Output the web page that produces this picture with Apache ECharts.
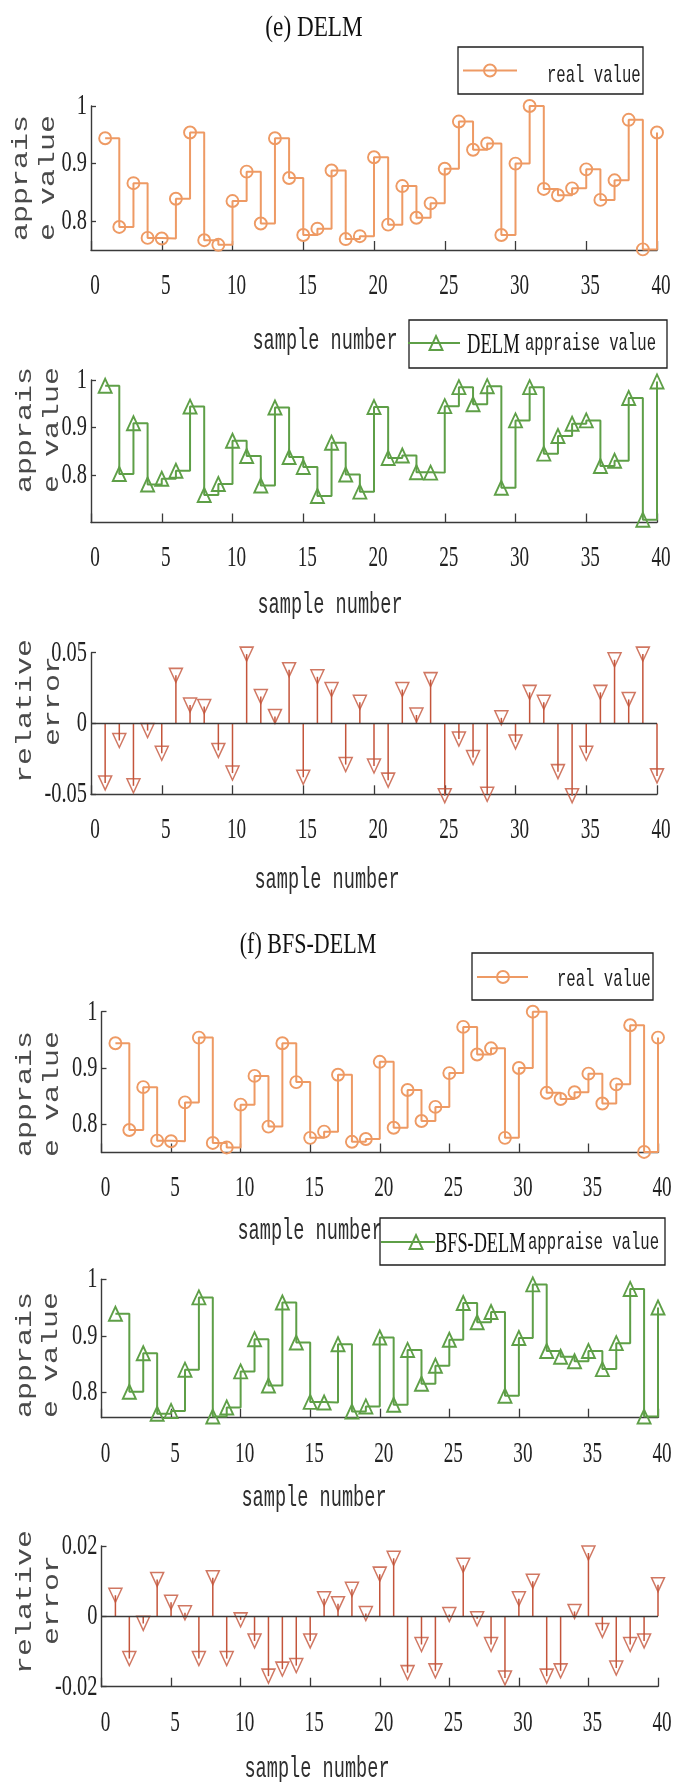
<!DOCTYPE html>
<html>
<head>
<meta charset="utf-8">
<script src="https://cdn.jsdelivr.net/npm/echarts@6/dist/echarts.min.js"></script>
<style>
html,body{margin:0;padding:0;background:#ffffff;}
#c{width:674px;height:1782px;}
</style>
</head>
<body>
<div id="c"></div>
<script>
// ---------------- data ----------------
const samples = [1,2,3,4,5,6,7,8,9,10,11,12,13,14,15,16,17,18,19,20,21,22,23,24,25,26,27,28,29,30,31,32,33,34,35,36,37,38,39,40];
const realValue = [0.944,0.790,0.866,0.771,0.770,0.839,0.954,0.767,0.759,0.835,0.886,0.796,0.944,0.875,0.776,0.787,0.888,0.769,0.774,0.911,0.794,0.861,0.806,0.831,0.891,0.973,0.924,0.935,0.776,0.900,1.000,0.856,0.845,0.857,0.890,0.837,0.871,0.976,0.751,0.954];
const delmValue = [0.988,0.802,0.909,0.780,0.792,0.809,0.944,0.758,0.781,0.872,0.840,0.778,0.942,0.838,0.817,0.756,0.868,0.801,0.765,0.943,0.836,0.841,0.806,0.805,0.945,0.985,0.949,0.987,0.773,0.915,0.985,0.845,0.882,0.908,0.915,0.819,0.830,0.962,0.706,0.997];
const delmError = [-0.042,-0.012,-0.044,-0.005,-0.021,0.034,0.013,0.012,-0.019,-0.035,0.049,0.019,0.005,0.038,-0.038,0.033,0.024,-0.029,0.015,-0.030,-0.040,0.024,0.006,0.031,-0.051,-0.011,-0.024,-0.050,0.004,-0.013,0.022,0.015,-0.034,-0.051,-0.021,0.022,0.045,0.017,0.049,-0.037];
const bfsValue = [0.939,0.801,0.869,0.762,0.767,0.840,0.968,0.757,0.773,0.837,0.894,0.812,0.959,0.888,0.783,0.782,0.885,0.766,0.775,0.897,0.778,0.875,0.815,0.847,0.893,0.958,0.924,0.942,0.794,0.896,0.991,0.873,0.863,0.855,0.873,0.841,0.887,0.983,0.757,0.950];
const bfsError = [0.006,-0.012,-0.002,0.0105,0.004,0.001,-0.012,0.011,-0.012,-0.001,-0.007,-0.017,-0.015,-0.014,-0.007,0.005,0.0036,0.0077,0.0008,0.012,0.0165,-0.016,-0.008,-0.0155,0.0005,0.0145,-0.0007,-0.008,-0.0175,0.005,0.010,-0.017,-0.0155,0.0014,0.018,-0.004,-0.0147,-0.008,-0.007,0.009];

const xTicks = [0,5,10,15,20,25,30,35,40];
const valueTicks = [0.8,0.9,1];
const valueTickLabels = ['0.8','0.9','1'];
const delmErrTicks = [-0.05,0,0.05];
const delmErrTickLabels = ['-0.05','0','0.05'];
const bfsErrTicks = [-0.02,0,0.02];
const bfsErrTickLabels = ['-0.02','0','0.02'];

const titles = ['(e) DELM','(f) BFS-DELM'];
const xName = 'sample number';
const valueName = ['apprais','e value'];
const errorName = ['relative','error'];
const legendReal = 'real value';
const legendDelm = ['DELM','appraise value'];
const legendBfs = ['BFS-DELM','appraise value'];

// ---------------- style ----------------
const ORANGE = '#EE9A64';
const GREEN = '#5E9F47';
const RED = '#C4553B';
const AX = '#3a3a3a';
const TXT = '#222222';
const SERIF = '"Liberation Serif","Times New Roman",serif';
const MONO = '"Liberation Mono","DejaVu Sans Mono",monospace';

// ---------------- layout ----------------
const panels = [
  {grid:{left:91, top:106, width:566, height:144}, yMin:0.75, yMax:1, ticks:valueTicks, labels:valueTickLabels, kind:'step', values:realValue, color:ORANGE, marker:'circle',
   xNamePos:[325,341], yNames:valueName, yNamePos:[[21.5,178],[48,178]]},
  {grid:{left:91, top:380, width:566, height:142.5}, yMin:0.70, yMax:1, ticks:valueTicks, labels:valueTickLabels, kind:'step', values:delmValue, color:GREEN, marker:'triangle',
   xNamePos:[330,605], yNames:valueName, yNamePos:[[25,430],[52,430]]},
  {grid:{left:91, top:652.7, width:566, height:141.6}, yMin:-0.05, yMax:0.05, ticks:delmErrTicks, labels:delmErrTickLabels, kind:'stem', values:delmError, color:RED,
   xNamePos:[327,880], yNames:errorName, yNamePos:[[25,711],[53,701]]},
  {grid:{left:101.5, top:1011.7, width:556.5, height:140.8}, yMin:0.75, yMax:1, ticks:valueTicks, labels:valueTickLabels, kind:'step', values:realValue, color:ORANGE, marker:'circle',
   xNamePos:[310,1231], yNames:valueName, yNamePos:[[25,1094],[52,1094]]},
  {grid:{left:101.5, top:1279.3, width:556.5, height:138.4}, yMin:0.755, yMax:1, ticks:valueTicks, labels:valueTickLabels, kind:'step', values:bfsValue, color:GREEN, marker:'triangle',
   xNamePos:[314,1498], yNames:valueName, yNamePos:[[25,1355],[51,1355]]},
  {grid:{left:101.5, top:1546, width:556.5, height:140.7}, yMin:-0.02, yMax:0.02, ticks:bfsErrTicks, labels:bfsErrTickLabels, kind:'stem', values:bfsError, color:RED,
   xNamePos:[317,1769], yNames:errorName, yNamePos:[[25,1602],[52,1600]]}
];

const chart = echarts.init(document.getElementById('c'), null, {renderer:'canvas', width:674, height:1782});

const grids = [], xAxes = [], yAxes = [], series = [];
panels.forEach((p, i) => {
  grids.push(Object.assign({containLabel:false}, p.grid));
  xAxes.push({
    gridIndex:i, type:'value', min:0, max:40, interval:5,
    axisLine:{show:true, onZero:false, lineStyle:{color:AX, width:1.4}},
    axisTick:{show:true, inside:true, length:9, lineStyle:{color:AX, width:1.3}},
    axisLabel:{show:false}, splitLine:{show:false}
  });
  yAxes.push({
    gridIndex:i, type:'value', min:p.yMin, max:p.yMax,
    axisLine:{show:true, onZero:false, lineStyle:{color:AX, width:1.4}},
    axisTick:{show:true, inside:true, length:5, customValues:p.ticks, lineStyle:{color:AX, width:1.3}},
    axisLabel:{show:false, customValues:p.ticks}, splitLine:{show:false}
  });
  const data = samples.map((s, k) => [s, p.values[k]]);
  if (p.kind === 'step') {
    series.push({
      type:'line', xAxisIndex:i, yAxisIndex:i, data, step:'end',
      symbol:p.marker, symbolSize: p.marker === 'circle' ? 12 : [13,14],
      showAllSymbol:true,
      lineStyle:{color:p.color, width:2},
      itemStyle:{color:'rgba(255,255,255,0)', borderColor:p.color, borderWidth:1.9},
      emphasis:{disabled:true}, clip:false, z:3
    });
  } else {
    series.push({
      type:'custom', xAxisIndex:i, yAxisIndex:i, data, clip:false, z:2,
      renderItem:(params, api) => {
        const a = api.coord([api.value(0), 0]);
        const b = api.coord([api.value(0), api.value(1)]);
        return {type:'line', shape:{x1:a[0], y1:a[1], x2:b[0], y2:b[1]}, style:{stroke:p.color, lineWidth:1.5}};
      }
    });
    series.push({
      type:'scatter', xAxisIndex:i, yAxisIndex:i, data,
      symbol:'triangle', symbolRotate:180, symbolSize:[13,14],
      itemStyle:{color:'rgba(255,255,255,0)', borderColor:p.color, borderWidth:1.5},
      emphasis:{disabled:true}, clip:false, z:4,
      markLine:{silent:true, symbol:['none','none'], label:{show:false},
        lineStyle:{color:AX, width:1.4, type:'solid'}, data:[{yAxis:0}], animation:false}
    });
  }
});

chart.setOption({
  animation:false,
  backgroundColor:'#ffffff',
  grid:grids, xAxis:xAxes, yAxis:yAxes, series
});

// ---------------- texts and legends ----------------
function txt(x, y, text, o) {
  const align = o.align || 'center';
  return {
    type:'text', x, y, z:o.z || 100, rotation:o.rot || 0,
    scaleX:o.sx || 1, scaleY:o.sy || 1, silent:true,
    style:{text, fontSize:o.size, fontFamily:o.family, fontWeight:o.weight || 'normal',
      fill:o.color || TXT, textAlign:align, align:align,
      textVerticalAlign:'middle', verticalAlign:'middle'}
  };
}

const g = [];
panels.forEach((p, i) => {
  p.ticks.forEach((v, k) => {
    const pt = chart.convertToPixel({gridIndex:i}, [0, v]);
    g.push(txt(pt[0] - 4, pt[1], p.labels[k], {size:30, family:SERIF, sx:0.68, align:'right'}));
  });
  xTicks.forEach(t => {
    const pt = chart.convertToPixel({gridIndex:i}, [t, p.yMin]);
    g.push(txt(pt[0] + 4, pt[1] + 36, String(t), {size:30, family:SERIF, sx:0.64}));
  });
  g.push(txt(p.xNamePos[0], p.xNamePos[1], xName, {size:30, family:MONO, sx:0.62, color:'#2e2e2e'}));
  p.yNames.forEach((n, k) => {
    g.push(txt(p.yNamePos[k][0], p.yNamePos[k][1], n, {size:30, family:MONO, sy:0.72, rot:Math.PI/2, color:'#4a4a4a'}));
  });
});

g.push(txt(314, 28, titles[0], {size:29, family:SERIF, sx:0.8, color:'#111111'}));
g.push(txt(308, 945, titles[1], {size:29, family:SERIF, sx:0.76, color:'#111111'}));

function legendBox(x, y, w, h) {
  return {type:'rect', z:110, silent:true, shape:{x, y, width:w, height:h},
    style:{fill:'#ffffff', stroke:'#1e1e1e', lineWidth:1.3}};
}
function legendLine(x1, x2, y, color) {
  return {type:'line', z:111, silent:true, shape:{x1, y1:y, x2, y2:y}, style:{stroke:color, lineWidth:2}};
}
function legendCircle(cx, cy, color) {
  return {type:'circle', z:112, silent:true, shape:{cx, cy, r:6}, style:{fill:'rgba(255,255,255,0)', stroke:color, lineWidth:1.9}};
}
function legendTri(cx, cy, color) {
  return {type:'polygon', z:112, silent:true, shape:{points:[[cx, cy - 7], [cx + 6.5, cy + 7], [cx - 6.5, cy + 7]]},
    style:{fill:'rgba(255,255,255,0)', stroke:color, lineWidth:1.9}};
}

// legend (e) real value
g.push(legendBox(458, 47, 185, 47));
g.push(legendLine(463, 517, 70.5, ORANGE));
g.push(legendCircle(490, 70.5, ORANGE));
g.push(txt(547, 76, legendReal, {size:24, family:MONO, sx:0.65, align:'left', z:113}));
// legend (e) DELM appraise value
g.push(legendBox(409, 320, 258, 48));
g.push(legendLine(408, 460, 343, GREEN));
g.push(legendTri(436, 343, GREEN));
g.push(txt(467, 345, legendDelm[0], {size:30, family:SERIF, sx:0.62, align:'left', z:113, color:'#111111'}));
g.push(txt(525, 344, legendDelm[1], {size:24, family:MONO, sx:0.65, align:'left', z:113}));
// legend (f) real value
g.push(legendBox(472, 953, 181, 47));
g.push(legendLine(477, 528, 977, ORANGE));
g.push(legendCircle(503, 977, ORANGE));
g.push(txt(557, 980, legendReal, {size:24, family:MONO, sx:0.65, align:'left', z:113}));
// legend (f) BFS-DELM appraise value
g.push(legendBox(380, 1218, 285, 47));
g.push(legendLine(381, 435, 1242, GREEN));
g.push(legendTri(416, 1242, GREEN));
g.push(txt(435, 1244, legendBfs[0], {size:30, family:SERIF, sx:0.61, align:'left', z:113, color:'#111111'}));
g.push(txt(528, 1243, legendBfs[1], {size:24, family:MONO, sx:0.65, align:'left', z:113}));

chart.setOption({graphic:{elements:g}});
</script>
</body>
</html>
